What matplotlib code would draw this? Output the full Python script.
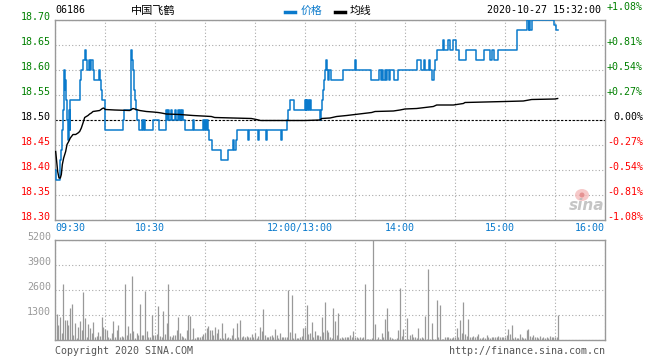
import matplotlib
matplotlib.use('Agg')
import matplotlib.pyplot as plt
from matplotlib.lines import Line2D
from matplotlib.patches import Ellipse
from matplotlib.transforms import blended_transform_factory as btf

# ---------------- data ----------------
stock_code = "06186"
stock_name = "中国飞鹤"
timestamp = "2020-10-27 15:32:00"
prev_close = 18.50

price_ticks = [18.30, 18.35, 18.40, 18.45, 18.50, 18.55, 18.60, 18.65, 18.70]
price_labels = ["18.30", "18.35", "18.40", "18.45", "18.50", "18.55", "18.60", "18.65", "18.70"]
pct_labels = ["-1.08%", "-0.81%", "-0.54%", "-0.27%", "0.00%", "+0.27%", "+0.54%", "+0.81%", "+1.08%"]
vol_ticks = [1300, 2600, 3900, 5200]
vol_labels = ["1300", "2600", "3900", "5200"]
time_ticks = [0, 60, 150, 210, 270, 330]
time_labels = ["09:30", "10:30", "12:00/13:00", "14:00", "15:00", "16:00"]

# price change points (minutes since 09:30, trading minutes), step series
price_t = [0, 0.8, 3.0, 3.6, 4.2, 4.8, 5.2, 5.8, 6.2, 6.6, 7.2, 7.8, 8.4, 8.8, 9.2,
           14.8, 15.8, 16.8, 17.8, 18.4, 19.4, 20.2, 20.8, 21.4, 22.8, 23.4, 26.2, 26.8,
           27.4, 28.2, 29.8, 30.2, 40.6, 41.6, 45.4, 45.8, 46.4, 46.8, 47.4, 48.0, 48.8,
           49.4, 50.4, 52.4, 53.0, 53.6, 54.2, 58.8, 62.4, 66.8, 67.4, 68.0, 68.6, 69.4,
           70.4, 71.8, 72.6, 73.6, 74.4, 75.0, 75.6, 76.2, 76.8, 77.8, 82.8, 83.4, 88.8,
           89.4, 90.0, 90.6, 91.2, 91.8, 92.6, 94.4, 99.8, 103.8, 106.8, 107.6, 108.4,
           109.4, 115.8, 116.4, 121.8, 122.6, 126.8, 127.4, 135.4, 136.0, 139.0, 140.0,
           141.0, 143.4, 149.8, 150.4, 150.8, 151.4, 152.0, 152.6, 153.0, 153.6, 159.0,
           159.6, 160.0, 160.6, 161.2, 162.0, 162.6, 163.2, 163.8, 164.6, 165.4, 166.0,
           172.8, 179.8, 180.4, 189.4, 194.4, 195.6, 196.2, 197.0, 198.0, 198.6, 199.2,
           200.4, 201.2, 203.6, 205.6, 217.2, 219.8, 221.2, 222.2, 224.4, 225.2, 226.0,
           227.4, 228.2, 229.4, 232.6, 233.6, 234.2, 235.8, 237.0, 239.0, 240.4, 242.4,
           246.4, 252.4, 257.4, 260.8, 262.2, 263.4, 264.2, 266.0, 277.2, 283.4, 284.2,
           284.6, 285.2, 286.0, 299.6, 300.4, 301.6]
price_v = [18.40, 18.38, 18.42, 18.44, 18.48, 18.52, 18.60, 18.56, 18.58, 18.54, 18.50,
           18.46, 18.52, 18.48, 18.54,
           18.58, 18.60, 18.62, 18.64, 18.62, 18.60, 18.62, 18.60, 18.62, 18.60, 18.58,
           18.60, 18.58, 18.56, 18.54, 18.52, 18.48, 18.50, 18.52, 18.56, 18.64, 18.62,
           18.60, 18.56, 18.54, 18.52, 18.50, 18.48, 18.50, 18.48, 18.50, 18.48, 18.50,
           18.48, 18.52, 18.50, 18.52, 18.50, 18.52, 18.50, 18.52, 18.50, 18.52, 18.50,
           18.52, 18.50, 18.52, 18.50, 18.48, 18.50, 18.48, 18.50, 18.48, 18.50, 18.48,
           18.50, 18.48, 18.46, 18.44, 18.42, 18.44, 18.46, 18.44, 18.46, 18.48, 18.46,
           18.48, 18.46, 18.48, 18.46, 18.48, 18.46, 18.48, 18.50, 18.52, 18.54, 18.52,
           18.54, 18.52, 18.54, 18.52, 18.54, 18.52, 18.54, 18.52, 18.50, 18.52, 18.54,
           18.56, 18.58, 18.60, 18.62, 18.60, 18.58, 18.60, 18.58, 18.58, 18.60, 18.62,
           18.60, 18.58, 18.60, 18.58, 18.60, 18.58, 18.60, 18.58, 18.60, 18.58, 18.60,
           18.58, 18.60, 18.62, 18.60, 18.62, 18.60, 18.62, 18.60, 18.58, 18.60, 18.62,
           18.64, 18.66, 18.64, 18.64, 18.66, 18.64, 18.66, 18.64, 18.62, 18.64, 18.62,
           18.64, 18.62, 18.64, 18.62, 18.62, 18.64, 18.68, 18.70, 18.68, 18.70, 18.68,
           18.70, 18.69, 18.68, 18.68]

# average price line points
avg_t = [0.4, 0.8, 1.6, 2.4, 3.2, 3.8, 4.4, 5.2, 6.4, 7.2, 8.2, 9.2, 10.8, 12.4, 13.8,
         14.8, 15.8, 16.8, 17.8, 18.8, 19.8, 20.8, 21.8, 22.8, 24.8, 26.8, 28.4, 29.2,
         30.2, 35.8, 44.8, 45.8, 46.8, 48.8, 50.8, 54.8, 58.8, 61.8, 63.8, 66.8, 74.8,
         82.8, 93.8, 95.8, 106.8, 117.8, 120.8, 123.4, 150.0, 159.0, 160.0, 165.0,
         169.0, 175.0, 180.0, 190.0, 192.0, 203.0, 207.0, 210.0, 217.0, 227.0, 229.0,
         239.0, 245.0, 246.0, 270.0, 281.0, 286.0, 300.0, 301.6]
avg_v = [18.437, 18.424, 18.397, 18.384, 18.384, 18.391, 18.411, 18.424, 18.437, 18.451,
         18.457, 18.464, 18.471, 18.471, 18.474, 18.477, 18.484, 18.494, 18.505, 18.507,
         18.509, 18.512, 18.514, 18.517, 18.518, 18.519, 18.523, 18.524, 18.521, 18.520,
         18.519, 18.521, 18.523, 18.521, 18.519, 18.517, 18.516, 18.515, 18.514, 18.512,
         18.511, 18.509, 18.507, 18.505, 18.504, 18.503, 18.501, 18.499, 18.499, 18.500,
         18.503, 18.504, 18.507, 18.509, 18.511, 18.515, 18.517, 18.518, 18.520, 18.522,
         18.523, 18.527, 18.530, 18.530, 18.533, 18.535, 18.537, 18.538, 18.541, 18.542,
         18.543]

# per-minute volume, morning (minutes 1..150) and afternoon (minutes 151..302)
vol_am = [1352, 780, 1180, 380, 2912, 1040, 1040, 780, 1650, 1870,
          260, 870, 120, 660, 990, 520, 2500, 1130, 170, 830,
          600, 380, 940, 170, 210, 430, 210, 1180, 660, 590,
          520, 170, 120, 350, 990, 170, 520, 780, 170, 210,
          140, 2912, 260, 730, 350, 3328, 470, 120, 380, 260,
          1870, 260, 260, 2548, 470, 170, 170, 1300, 260, 260,
          310, 1768, 210, 140, 1508, 310, 870, 2912, 210, 140,
          260, 260, 520, 1180, 350, 220, 170, 90, 520, 1280,
          1250, 50, 600, 90, 140, 140, 170, 210, 290,
          380, 600, 750, 520, 520, 260, 660, 380, 550, 100,
          900, 120, 380, 90, 170, 120, 260, 620, 120,
          870, 170, 1040, 140, 210, 140, 210, 170, 140, 290,
          170, 380, 90, 210, 660, 490, 1612, 260, 140, 140,
          210, 260, 170, 570, 260, 120, 350, 170, 170,
          170, 170, 2600, 430, 2360, 120, 350, 120, 120, 170,
          220, 600, 690]
vol_pm = [1820,
          310, 350, 950, 170, 490, 260, 240, 210, 1210, 430,
          1990, 520, 430, 170, 120, 1650, 1000, 260, 1420, 100,
          140, 120, 170, 170, 170, 260, 170, 490, 170, 140,
          120, 170, 100, 170, 2912, 50, 50, 70, 120, 5200,
          830, 70, 170, 70, 350, 170, 1090, 1660, 490, 170,
          90, 70, 50, 90, 520, 2700, 210, 570, 35, 1130,
          30, 260, 310, 140, 170, 100, 620, 120, 170, 100,
          1250, 30, 3692, 70, 870, 35, 50, 2080, 140, 1820,
          35, 35, 140, 140, 140, 120, 100, 140, 140, 620,
          170, 1040, 380, 1980, 310, 210, 1090, 170, 140, 210,
          170, 210, 310, 120, 100, 170, 120, 240, 170, 120,
          150, 170, 150, 140, 210, 170, 140, 170, 170, 260,
          590, 310, 780, 120, 170, 120, 120, 310, 170, 120,
          120, 520, 570, 210, 140, 260, 140, 170, 100, 230,
          90, 170, 90, 140, 120, 230, 150, 140, 170, 140,
          1300]

# ---------------- style ----------------
BLUE = '#0A7ACC'
GREEN = '#008000'
RED = '#FF0000'
GRID = '#AAAAAA'
SPINE = '#999999'
MONO = 'DejaVu Sans Mono'
CJK = ['Noto Sans CJK SC', 'DejaVu Sans']

W, H = 660, 360
fig = plt.figure(figsize=(6.6, 3.6), dpi=100)
fig.patch.set_facecolor('white')


def fx(px):
    return px / W


def fy(py):
    return 1 - py / H


ax = fig.add_axes([fx(55), fy(220), 550 / W, 200 / H])
vax = fig.add_axes([fx(55), fy(340), 550 / W, 100 / H])

for a in (ax, vax):
    a.set_xlim(0, 330)
    a.set_xticks(range(0, 331, 30))
    a.tick_params(length=0, labelleft=False, labelbottom=False)
    a.grid(True, color=GRID, linestyle=(0, (1, 2)), linewidth=0.8)
    a.set_axisbelow(True)
    for s in a.spines.values():
        s.set_color(SPINE)
        s.set_linewidth(1.0)

ax.set_ylim(price_ticks[0], price_ticks[-1])
ax.set_yticks(price_ticks)
vax.set_ylim(0, vol_ticks[-1])
vax.set_yticks([0] + vol_ticks)

# watermark
fig.add_artist(Ellipse((fx(582), fy(195)), 14 / W, 12 / H, facecolor='#F4B8B8', edgecolor='none', alpha=0.75))
fig.add_artist(Ellipse((fx(582), fy(195)), 5 / W, 5 / H, facecolor='#E08080', edgecolor='none', alpha=0.75))
fig.text(fx(587), fy(210), "sina", ha='center', va='baseline', fontsize=11, family='DejaVu Sans',
         style='italic', weight='bold', color='#BBBBBB', alpha=0.85)

# prev close line
ax.axhline(prev_close, color='black', linestyle=(0, (2, 1.5)), linewidth=0.8, zorder=2)

# series
ax.plot(price_t, price_v, drawstyle='steps-post', color=BLUE, linewidth=1.1, zorder=3)
ax.plot(avg_t, avg_v, color='black', linewidth=1.0, zorder=4)

vol_x = list(range(1, 1 + len(vol_am))) + list(range(151, 151 + len(vol_pm)))
vax.vlines(vol_x, 0, vol_am + vol_pm, color=SPINE, linewidth=0.9)

# left / right price labels
tl = btf(ax.transAxes, ax.transData)
for p, lab, pl in zip(price_ticks, price_labels, pct_labels):
    if p > prev_close + 1e-9:
        c = GREEN
    elif p < prev_close - 1e-9:
        c = RED
    else:
        c = 'black'
    ax.text(-4 / 550, p, lab, transform=tl, ha='right', va='baseline',
            fontsize=7.2, family=MONO, color=c)
    yy = p if p < price_ticks[-1] else p + 0.02
    ax.text(1 + 38 / 550, yy, pl, transform=tl, ha='right', va='baseline',
            fontsize=7.2, family=MONO, color=c, clip_on=False)

# volume labels
tv = btf(vax.transAxes, vax.transData)
for v, lab in zip(vol_ticks, vol_labels):
    vax.text(-4 / 550, v, lab, transform=tv, ha='right', va='baseline',
             fontsize=7.2, family=MONO, color=SPINE)

# time labels
tt = btf(ax.transData, ax.transAxes)
for i, (t, lab) in enumerate(zip(time_ticks, time_labels)):
    if i == 0:
        ha, xx = 'left', t
    elif i == len(time_ticks) - 1:
        ha, xx = 'right', t
    else:
        ha, xx = 'center', t - 3
    ax.text(xx, -3 / 200, lab, transform=tt, ha=ha, va='top',
            fontsize=7.2, family=MONO, color=BLUE)

# header
fig.text(fx(55), fy(13), stock_code, ha='left', va='baseline', fontsize=7.2, family=MONO, color='black')
fig.text(fx(131), fy(13.5), stock_name, ha='left', va='baseline', fontsize=8, family=CJK, color='black')
fig.add_artist(Line2D([fx(285), fx(295)], [fy(11.5), fy(11.5)], color=BLUE, linewidth=2.5))
fig.text(fx(301), fy(14), "价格", ha='left', va='baseline', fontsize=7.8, family=CJK, color=BLUE)
fig.add_artist(Line2D([fx(335), fx(345)], [fy(11.5), fy(11.5)], color='black', linewidth=2.5))
fig.text(fx(350), fy(14), "均线", ha='left', va='baseline', fontsize=7.8, family=CJK, color='black')
fig.text(fx(601), fy(13), timestamp, ha='right', va='baseline', fontsize=7.2, family=MONO, color='black')

# footer
fig.text(fx(55), fy(354), "Copyright 2020 SINA.COM", ha='left', va='baseline', fontsize=7.2, family=MONO, color='#555555')
fig.text(fx(605), fy(354), "http://finance.sina.com.cn", ha='right', va='baseline', fontsize=7.2, family=MONO, color='#555555')

fig.savefig('out.png', dpi=100, facecolor='white')
